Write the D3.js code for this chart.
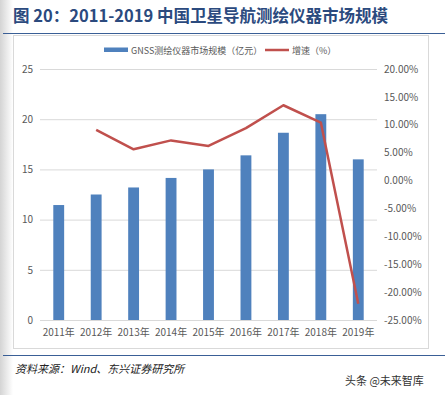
<!DOCTYPE html>
<html><head><meta charset="utf-8">
<script src="https://cdn.jsdelivr.net/npm/d3@7"></script>
<style>body{margin:0;background:#fff;}svg{display:block;}</style>
</head><body>
<svg id="c" width="448" height="395"></svg>
<script>
const years = ["2011年","2012年","2013年","2014年","2015年","2016年","2017年","2018年","2019年"];
const marketSize = [11.45, 12.5, 13.2, 14.15, 15.0, 16.4, 18.65, 20.5, 16.0];
const growth = [null, 9.1, 5.6, 7.2, 6.2, 9.4, 13.5, 10.4, -22.1];
const leftTicks = [0, 5, 10, 15, 20, 25];
const rightTicks = [20, 15, 10, 5, 0, -5, -10, -15, -20, -25];
const legendLabels = ["GNSS测绘仪器市场规模（亿元）", "增速（%）"];

const svg = d3.select("#c");
const font = "'Noto Sans CJK SC', 'Noto Sans', sans-serif";

// left shadow
const defs = svg.append("defs");
const g1 = defs.append("linearGradient").attr("id","sh").attr("x1","0").attr("x2","1");
g1.append("stop").attr("offset","0").attr("stop-color","#d4d4d4");
g1.append("stop").attr("offset","1").attr("stop-color","#ffffff");
svg.append("rect").attr("x",0).attr("y",0).attr("width",13).attr("height",395).attr("fill","url(#sh)");

// title
svg.append("text").attr("x",13).attr("y",22).attr("font-family",font).attr("font-weight","bold")
  .attr("font-size",16.5).attr("fill","#2b4a7e").text("图 20：2011-2019 中国卫星导航测绘仪器市场规模");
svg.append("line").attr("x1",3).attr("x2",445).attr("y1",33.5).attr("y2",33.5).attr("stroke","#3a5f96").attr("stroke-width",1.2);

// chart box
svg.append("rect").attr("x",13.5).attr("y",35.5).attr("width",415).attr("height",313).attr("fill","#fff").attr("stroke","#d9d9d9");

// scales
const x = d3.scaleBand().domain(years).range([40, 377]).paddingInner(0.71).paddingOuter(0.355);
const yL = d3.scaleLinear().domain([0,25]).range([320,69]);
const yR = d3.scaleLinear().domain([-25,20]).range([320,69]);

// gridlines
svg.append("g").selectAll("line").data(leftTicks).join("line")
  .attr("x1",40).attr("x2",377).attr("y1",d=>yL(d)+0.5).attr("y2",d=>yL(d)+0.5)
  .attr("stroke","#d9d9d9").attr("stroke-width",1);

// left axis labels
const axL = svg.append("g").attr("transform","translate(40,0)")
  .call(d3.axisLeft(yL).tickValues(leftTicks).tickSize(0).tickPadding(7));
axL.select(".domain").remove();
axL.selectAll("text").attr("font-family",font).attr("font-size",10).attr("fill","#595959");

// right axis labels
const axR = svg.append("g").attr("transform","translate(377,0)")
  .call(d3.axisRight(yR).tickValues(rightTicks).tickSize(0).tickPadding(7).tickFormat(d=>d.toFixed(2)+"%"));
axR.select(".domain").remove();
axR.selectAll("text").attr("font-family",font).attr("font-size",10).attr("fill","#595959");

// x axis labels
const axX = svg.append("g").attr("transform","translate(0,320)")
  .call(d3.axisBottom(x).tickSize(0).tickPadding(9));
axX.select(".domain").remove();
axX.selectAll("text").attr("font-family",font).attr("font-size",10).attr("fill","#595959");

// bars
svg.append("g").selectAll("rect").data(marketSize).join("rect")
  .attr("x",(d,i)=>x(years[i])).attr("width",x.bandwidth())
  .attr("y",d=>yL(d)).attr("height",d=>yL(0)-yL(d))
  .attr("fill","#4f81bd");

// line
const pts = growth.map((v,i)=>({v, c:years[i]})).filter(d=>d.v!==null);
svg.append("path").datum(pts)
  .attr("d", d3.line().x(d=>x(d.c)+x.bandwidth()/2).y(d=>yR(d.v)))
  .attr("fill","none").attr("stroke","#c0504d").attr("stroke-width",2.5).attr("stroke-linejoin","round");

// legend
const lg = svg.append("g");
lg.append("rect").attr("x",104).attr("y",47.5).attr("width",24).attr("height",4.5).attr("fill","#4f81bd");
lg.append("text").attr("x",131).attr("y",53.5).attr("font-family",font).attr("font-size",9).attr("fill","#595959").text(legendLabels[0]);
lg.append("line").attr("x1",265).attr("x2",289).attr("y1",50).attr("y2",50).attr("stroke","#c0504d").attr("stroke-width",2.5);
lg.append("text").attr("x",292).attr("y",53.5).attr("font-family",font).attr("font-size",9).attr("fill","#595959").text(legendLabels[1]);

// bottom
svg.append("line").attr("x1",3).attr("x2",445).attr("y1",355.5).attr("y2",355.5).attr("stroke","#3a5f96").attr("stroke-width",1.2);
svg.append("text").attr("x",15).attr("y",373).attr("font-family",font).attr("font-style","italic")
  .attr("font-size",11).attr("fill","#222").text("资料来源：Wind、东兴证券研究所");
svg.append("text").attr("x",345).attr("y",385).attr("font-family",font)
  .attr("font-size",11).attr("fill","#333").text("头条 @未来智库");
</script>
</body></html>
